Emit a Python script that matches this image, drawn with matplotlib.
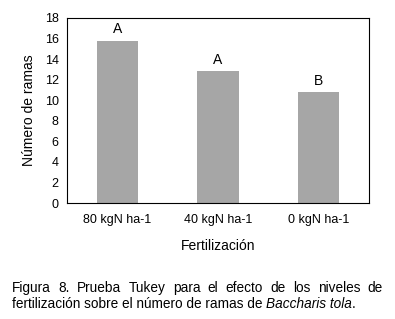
import matplotlib
matplotlib.use("Agg")
import matplotlib.pyplot as plt

plt.rcParams['font.family'] = ['Liberation Sans', 'DejaVu Sans']

# datos
niveles = ['80 kgN ha-1', '40 kgN ha-1', '0 kgN ha-1']
ramas = [15.8, 12.8, 10.8]
letras = ['A', 'A', 'B']
yticks = [0, 2, 4, 6, 8, 10, 12, 14, 16, 18]

W, H = 395, 319
fig = plt.figure(figsize=(W / 100, H / 100), dpi=100)
ax = fig.add_axes([67/W, 1 - 203/H, 302/W, 185/H])

x = range(len(niveles))
ax.bar(x, ramas, width=0.41, color='#a6a6a6')
for xi, v, l in zip(x, ramas, letras):
    ax.annotate(l, (xi, v), xytext=(0, 3), textcoords='offset points',
                ha='center', va='bottom', fontsize=10)

ax.set_xlim(-0.5, 2.5)
ax.set_ylim(0, 18)
ax.set_yticks(yticks)
ax.set_xticks(list(x))
ax.set_xticklabels(niveles)
ax.tick_params(length=0, labelsize=9, pad=6)
ax.tick_params(axis='x', pad=8)
for s in ax.spines.values():
    s.set_linewidth(0.8)
ax.set_ylabel('Número de ramas', fontsize=10, labelpad=6)
ax.set_xlabel('Fertilización', fontsize=10, labelpad=9)

# pie de figura justificado
fs = 9.8
x0, x1 = 12, 383
r = fig.canvas.get_renderer()

def ancho(t, **kw):
    tt = fig.text(0, 0, t, fontsize=fs, **kw)
    w = tt.get_window_extent(renderer=r).width
    tt.remove()
    return w

palabras = 'Figura 8. Prueba Tukey para el efecto de los niveles de'.split()
anchos = [ancho(p) for p in palabras]
hueco = (x1 - x0 - sum(anchos)) / (len(palabras) - 1)
px = x0
for p, w in zip(palabras, anchos):
    fig.text(px / W, 1 - 292/H, p, fontsize=fs, va='baseline', ha='left')
    px += w + hueco

partes = [('fertilización sobre el número de ramas de ', 'normal'),
          ('Baccharis tola', 'italic'), ('.', 'normal')]
px = x0
for t, st in partes:
    fig.text(px / W, 1 - 308/H, t, fontsize=fs, style=st, va='baseline', ha='left')
    px += ancho(t, style=st)

fig.savefig('out.png', dpi=100)
